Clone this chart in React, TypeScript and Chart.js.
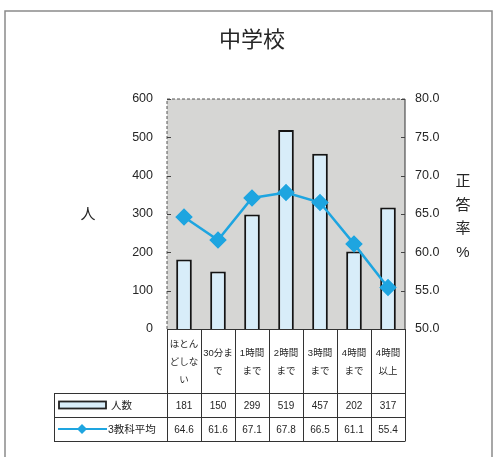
import React, { useEffect, useRef } from "react";
import { Chart, registerables } from "chart.js";

Chart.register(...registerables);

const categories: string[][] = [
  ["ほとん", "どしな", "い"],
  ["30分ま", "で"],
  ["1時間", "まで"],
  ["2時間", "まで"],
  ["3時間", "まで"],
  ["4時間", "まで"],
  ["4時間", "以上"],
];
const students: number[] = [181, 150, 299, 519, 457, 202, 317];
const avgScore: number[] = [64.6, 61.6, 67.1, 67.8, 66.5, 61.1, 55.4];
const barLabel = "人数";
const lineLabel = "3教科平均";
const chartTitle = "中学校";
const leftTitle = "人";
const rightTitle = ["正", "答", "率", "%"];

const JP = "'Liberation Sans', 'Noto Sans CJK JP', sans-serif";
const BAR_FILL = "#d8edf9";
const LINE_COLOR = "#1ea5e0";
const TEXT = "#262626";

const decorPlugin = {
  id: "decor",
  beforeDraw(chart: any) {
    const { ctx, chartArea: a } = chart;
    ctx.save();
    ctx.fillStyle = "#ffffff";
    ctx.fillRect(0, 0, chart.width, chart.height);
    ctx.strokeStyle = "#8a8a8a";
    ctx.lineWidth = 1.5;
    ctx.strokeRect(5, 11, 487, 460);
    ctx.fillStyle = "#d6d6d4";
    ctx.fillRect(a.left, a.top, a.right - a.left, a.bottom - a.top);
    ctx.restore();
  },
  afterDraw(chart: any) {
    const { ctx, chartArea: a } = chart;
    const xs = chart.scales.x;
    const yL = chart.scales.y;
    const yR = chart.scales.y1;
    ctx.save();
    ctx.strokeStyle = "#555";
    ctx.lineWidth = 1;
    ctx.setLineDash([3, 2]);
    ctx.beginPath();
    ctx.moveTo(a.left, a.bottom);
    ctx.lineTo(a.left, a.top);
    ctx.lineTo(a.right, a.top);
    ctx.stroke();
    ctx.setLineDash([]);
    ctx.strokeStyle = "#333";
    ctx.beginPath();
    ctx.moveTo(a.right, a.top);
    ctx.lineTo(a.right, a.bottom);
    ctx.stroke();
    ctx.strokeStyle = "#444";
    yL.ticks.forEach((t: any) => {
      const y = Math.round(yL.getPixelForValue(t.value)) + 0.5;
      ctx.beginPath();
      ctx.moveTo(a.left, y);
      ctx.lineTo(a.left + 4, y);
      ctx.stroke();
    });
    yR.ticks.forEach((t: any) => {
      const y = Math.round(yR.getPixelForValue(t.value)) + 0.5;
      ctx.beginPath();
      ctx.moveTo(a.right - 4, y);
      ctx.lineTo(a.right, y);
      ctx.stroke();
    });

    ctx.fillStyle = TEXT;
    ctx.textAlign = "center";
    ctx.textBaseline = "middle";
    ctx.font = `22px ${JP}`;
    ctx.fillText(chartTitle, 252, 41);
    ctx.font = `15px ${JP}`;
    ctx.fillText(leftTitle, 88, 215);
    rightTitle.forEach((ch, i) => ctx.fillText(ch, 463, 182 + i * 23.5));

    const n = categories.length;
    const colW = (a.right - a.left) / n;
    const rowTop = 393;
    const rowMid = 417;
    const rowBot = 441;
    const tableLeft = 54;
    ctx.strokeStyle = "#333";
    ctx.lineWidth = 1;
    ctx.beginPath();
    for (let i = 0; i <= n; i++) {
      const x = Math.round(a.left + i * colW) + 0.5;
      ctx.moveTo(x, a.bottom);
      ctx.lineTo(x, rowBot);
    }
    ctx.moveTo(tableLeft + 0.5, rowTop);
    ctx.lineTo(tableLeft + 0.5, rowBot);
    [rowTop, rowMid, rowBot].forEach((y) => {
      ctx.moveTo(tableLeft, y + 0.5);
      ctx.lineTo(a.right + 0.5, y + 0.5);
    });
    ctx.moveTo(a.left, a.bottom + 0.5);
    ctx.lineTo(a.right, a.bottom + 0.5);
    ctx.stroke();

    ctx.fillStyle = TEXT;
    ctx.font = `9.5px ${JP}`;
    categories.forEach((lines, i) => {
      const cx = xs.getPixelForValue(i);
      const lh = 18;
      const cy = (a.bottom + rowTop) / 2 + 1;
      const y0 = cy - ((lines.length - 1) * lh) / 2;
      lines.forEach((ln, j) => ctx.fillText(ln, cx, y0 + j * lh));
    });
    ctx.font = `10px ${JP}`;
    students.forEach((v, i) => {
      ctx.fillText(String(v), xs.getPixelForValue(i), (rowTop + rowMid) / 2 + 1);
    });
    avgScore.forEach((v, i) => {
      ctx.fillText(v.toFixed(1), xs.getPixelForValue(i), (rowMid + rowBot) / 2 + 1);
    });

    const ly1 = (rowTop + rowMid) / 2;
    ctx.fillStyle = BAR_FILL;
    ctx.fillRect(59, ly1 - 3.5, 47, 7);
    ctx.strokeStyle = "#222";
    ctx.lineWidth = 1.8;
    ctx.strokeRect(59, ly1 - 3.5, 47, 7);
    ctx.fillStyle = TEXT;
    ctx.textAlign = "left";
    ctx.font = `10.5px ${JP}`;
    ctx.fillText(barLabel, 111, ly1 + 1);

    const ly2 = (rowMid + rowBot) / 2;
    ctx.strokeStyle = LINE_COLOR;
    ctx.lineWidth = 2;
    ctx.beginPath();
    ctx.moveTo(58, ly2);
    ctx.lineTo(107, ly2);
    ctx.stroke();
    ctx.fillStyle = LINE_COLOR;
    ctx.beginPath();
    ctx.moveTo(82, ly2 - 5);
    ctx.lineTo(87, ly2);
    ctx.lineTo(82, ly2 + 5);
    ctx.lineTo(77, ly2);
    ctx.closePath();
    ctx.fill();
    ctx.fillStyle = TEXT;
    ctx.fillText(lineLabel, 108, ly2 + 1);
    ctx.restore();
  },
};

export default function App() {
  const ref = useRef<HTMLCanvasElement | null>(null);
  useEffect(() => {
    if (!ref.current) return;
    const chart = new Chart(ref.current, {
      type: "bar",
      data: {
        labels: categories.map((c) => c.join("")),
        datasets: [
          {
            type: "line",
            label: lineLabel,
            data: avgScore,
            yAxisID: "y1",
            borderColor: LINE_COLOR,
            backgroundColor: LINE_COLOR,
            borderWidth: 2.5,
            pointStyle: "rectRot",
            pointRadius: 7,
            pointBackgroundColor: LINE_COLOR,
            pointBorderColor: LINE_COLOR,
            tension: 0,
            order: 0,
          } as any,
          {
            type: "bar",
            label: barLabel,
            data: students,
            yAxisID: "y",
            backgroundColor: BAR_FILL,
            borderColor: "#141414",
            borderWidth: 2,
            categoryPercentage: 1,
            barPercentage: 0.46,
            order: 1,
          } as any,
        ],
      },
      options: {
        responsive: false,
        animation: false,
        layout: { padding: { top: 99, left: 0, right: 0, bottom: 0 } },
        plugins: {
          legend: { display: false },
          tooltip: { enabled: false },
          title: { display: false },
        },
        scales: {
          x: {
            ticks: { display: false },
            grid: { display: false, drawTicks: false },
            border: { display: false },
            afterFit: (s: any) => {
              s.height = 457 - 329;
            },
          },
          y: {
            position: "left",
            min: 0,
            max: 600,
            ticks: {
              stepSize: 100,
              padding: 14,
              color: TEXT,
              font: { size: 12.5, family: JP },
            },
            grid: { display: false, drawTicks: false },
            border: { display: false },
            afterFit: (s: any) => {
              s.width = 167;
            },
          },
          y1: {
            position: "right",
            min: 50,
            max: 80,
            ticks: {
              stepSize: 5,
              padding: 10,
              color: TEXT,
              font: { size: 12.5, family: JP },
              callback: (v: any) => Number(v).toFixed(1),
            },
            grid: { display: false, drawTicks: false },
            border: { display: false },
            afterFit: (s: any) => {
              s.width = 493 - 405;
            },
          },
        },
      },
      plugins: [decorPlugin],
    });
    return () => chart.destroy();
  }, []);
  return (
    <div style={{ position: "fixed", left: 0, top: 0, width: 493, height: 457 }}>
      <canvas ref={ref} width={493} height={457} style={{ display: "block" }} />
    </div>
  );
}
